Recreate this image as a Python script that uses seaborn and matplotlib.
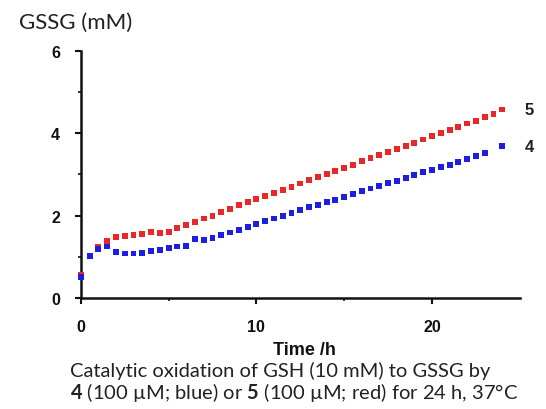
import numpy as np
import pandas as pd
import matplotlib
matplotlib.use("Agg")
import matplotlib.pyplot as plt
import seaborn as sns

# time points (h), sampled every 0.5 h
time_h = [0.0, 0.5, 1.0, 1.5, 2.0, 2.5, 3.0, 3.5, 4.0, 4.5, 5.0, 5.5, 6.0, 6.5,
          7.0, 7.5, 8.0, 8.5, 9.0, 9.5, 10.0, 10.5, 11.0, 11.5, 12.0, 12.5,
          13.0, 13.5, 14.0, 14.5, 15.0, 15.5, 16.0, 16.5, 17.0, 17.5, 18.0,
          18.5, 19.0, 19.5, 20.0, 20.5, 21.0, 21.5, 22.0, 22.5, 23.0, 23.5, 24.0]

# GSSG (mM) with catalyst 5 (red)
gssg_5 = [0.55, 1.02, 1.25, 1.38, 1.47, 1.50, 1.52, 1.55, 1.60, 1.57, 1.60,
          1.70, 1.78, 1.85, 1.93, 2.00, 2.08, 2.17, 2.25, 2.33, 2.40, 2.47,
          2.55, 2.63, 2.70, 2.78, 2.86, 2.93, 3.01, 3.08, 3.16, 3.24, 3.32,
          3.40, 3.47, 3.55, 3.63, 3.70, 3.77, 3.85, 3.93, 4.01, 4.08, 4.15,
          4.24, 4.31, 4.39, 4.47, 4.58]

# GSSG (mM) with catalyst 4 (blue); one point missing at 23.5 h
gssg_4 = [0.50, 1.02, 1.18, 1.25, 1.12, 1.08, 1.08, 1.10, 1.13, 1.16, 1.22,
          1.25, 1.27, 1.43, 1.40, 1.46, 1.52, 1.59, 1.66, 1.73, 1.80, 1.87,
          1.93, 2.00, 2.06, 2.13, 2.20, 2.26, 2.33, 2.39, 2.46, 2.52, 2.59,
          2.66, 2.72, 2.79, 2.85, 2.92, 2.98, 3.05, 3.11, 3.18, 3.24, 3.31,
          3.37, 3.44, 3.52, np.nan, 3.69]

df = pd.DataFrame({"t": time_h * 2,
                   "gssg": gssg_5 + gssg_4,
                   "cat": ["5"] * len(time_h) + ["4"] * len(time_h)}).dropna()

sns.set_style("ticks")
plt.rcParams['font.family'] = ['Liberation Sans', 'DejaVu Sans']
plt.rcParams['mathtext.fontset'] = 'custom'
plt.rcParams['mathtext.bf'] = 'Lato:bold'
plt.rcParams['mathtext.rm'] = 'Lato'

fig = plt.figure(figsize=(5.46, 4.10), dpi=100)
ax = fig.add_axes([0.148, 0.271, 0.804, 0.602])

colors = {"5": "#e82828", "4": "#1e1ee0"}
for cat in ["5", "4"]:
    sub = df[df["cat"] == cat]
    sns.scatterplot(data=sub, x="t", y="gssg", ax=ax, marker="s", s=18,
                    color=colors[cat], edgecolor="none", linewidth=0,
                    clip_on=False, zorder=3)
    last = sub.iloc[-1]
    ax.annotate(cat, (last["t"], last["gssg"]), xytext=(16, 0),
                textcoords="offset points", va="center", ha="left",
                fontsize=12, fontweight="bold", color="#222222")

ax.set_xlim(0, 25)
ax.set_ylim(0, 6)
ax.set_xticks([0, 10, 20])
ax.set_xticks([5, 15], minor=True)
ax.set_yticks([0, 2, 4, 6])
ax.set_yticks([1, 3, 5], minor=True)
ax.set_xlabel("")
ax.set_ylabel("")
sns.despine(ax=ax)
for sp in ["left", "bottom"]:
    ax.spines[sp].set_linewidth(1.8)
    ax.spines[sp].set_color("#111111")
ax.tick_params(which="major", direction="out", length=4, width=1.5,
               labelsize=11.5, pad=11, colors="#111111")
ax.tick_params(which="minor", direction="out", length=2.5, width=1.2,
               colors="#111111")
for lab in ax.get_xticklabels() + ax.get_yticklabels():
    lab.set_fontweight("bold")

fig.text(0.035, 0.945, "GSSG (mM)", fontsize=16, family=["Lato", "DejaVu Sans"],
         color="#222222", va="center")
fig.text(0.557, 0.146, "Time /h", fontsize=13, fontweight="bold",
         ha="center", va="center", color="#111111")
fig.text(0.128, 0.095, "Catalytic oxidation of GSH (10 mM) to GSSG by",
         fontsize=14.5, family=["Lato", "DejaVu Sans"], color="#222222",
         va="center")
fig.text(0.128, 0.042,
         r"$\mathbf{4}$ (100 µM; blue) or $\mathbf{5}$ (100 µM; red) for 24 h, 37°C",
         fontsize=14.5, family=["Lato", "DejaVu Sans"], color="#222222",
         va="center")

fig.savefig("out.png", dpi=100)
